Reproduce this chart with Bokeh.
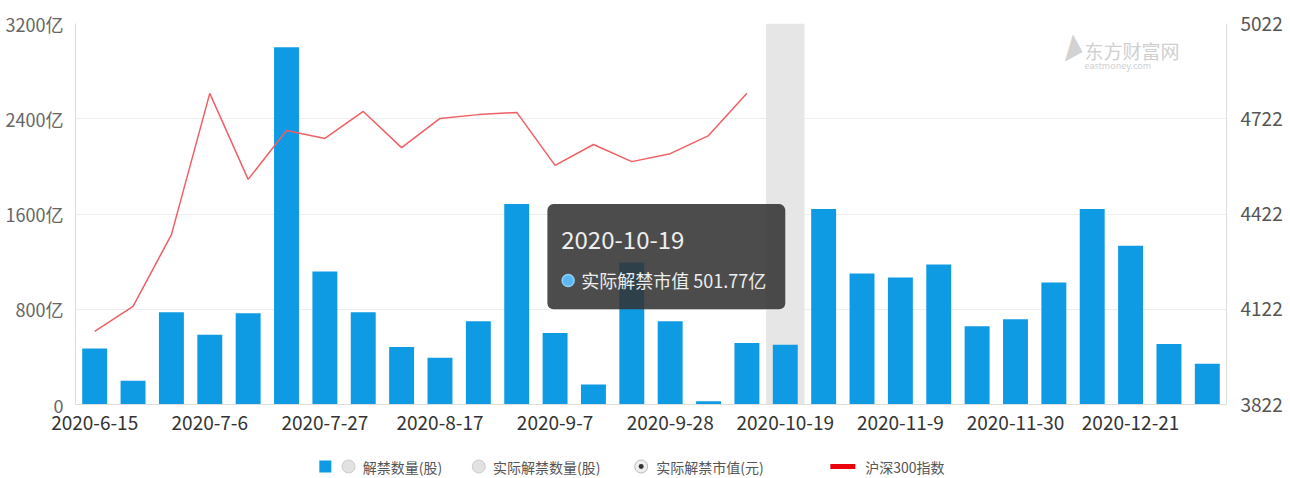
from bokeh.plotting import figure
from bokeh.models import Range1d, LinearAxis, FixedTicker, BoxAnnotation, Label
from bokeh.layouts import column
from bokeh.embed import file_html
from bokeh.resources import INLINE
from bokeh.core.properties import value

FONT = "Noto Sans CJK SC"

dates = ["2020-6-15", "2020-6-22", "2020-6-29", "2020-7-6", "2020-7-13", "2020-7-20",
         "2020-7-27", "2020-8-3", "2020-8-10", "2020-8-17", "2020-8-24", "2020-8-31",
         "2020-9-7", "2020-9-14", "2020-9-21", "2020-9-28", "2020-10-5", "2020-10-12",
         "2020-10-19", "2020-10-26", "2020-11-2", "2020-11-9", "2020-11-16", "2020-11-23",
         "2020-11-30", "2020-12-7", "2020-12-14", "2020-12-21", "2020-12-28", "2021-1-4"]

# 实际解禁市值 (亿元)
market_value = [470, 200, 775, 585, 767, 3000, 1117, 775, 483, 392, 700, 1683,
                600, 167, 1192, 700, 28, 517, 501.77, 1642, 1100, 1067, 1175, 658,
                717, 1025, 1642, 1333, 508, 342]

# 沪深300指数
hs300 = [4052, 4131, 4357, 4802, 4531, 4685, 4660, 4745, 4631, 4723, 4735, 4742,
         4575, 4641, 4587, 4612, 4669, 4802]

left_ticks = [0, 800, 1600, 2400, 3200]
left_labels = ["0", "800亿", "1600亿", "2400亿", "3200亿"]
right_ticks = [3822, 4122, 4422, 4722, 5022]

legend_labels = ["解禁数量(股)", "实际解禁数量(股)", "实际解禁市值(元)", "沪深300指数"]
tooltip_date = "2020-10-19"
tooltip_text = "实际解禁市值 501.77亿"
watermark = "东方财富网"

BAR = "#0f9be3"
RED = "#f05f64"

n = len(dates)
xs = list(range(n))

p = figure(width=1290, height=448, output_backend="svg", toolbar_location=None,
           x_range=Range1d(-0.5, n - 0.5), y_range=Range1d(0, 3200),
           min_border_left=75, min_border_right=64, min_border_top=23, min_border_bottom=44,
           background_fill_color="white", border_fill_color="white")
p.outline_line_color = None
p.extra_y_ranges = {"idx": Range1d(3822, 5022)}

# highlight band for hovered category
hi = dates.index(tooltip_date)
p.add_layout(BoxAnnotation(left=hi - 0.5, right=hi + 0.5, fill_color="#e6e6e6",
                           fill_alpha=1.0, line_color=None, level="underlay"))

p.vbar(x=xs, top=market_value, width=0.65, color=BAR, line_color=None)
p.line(x=xs[:len(hs300)], y=hs300, y_range_name="idx", line_color=RED, line_width=1.5)

# axes
p.xgrid.visible = False
p.ygrid.grid_line_color = "#eeeeee"
p.ygrid.ticker = FixedTicker(ticks=left_ticks)

ya = p.yaxis[0]
ya.ticker = FixedTicker(ticks=left_ticks)
ya.major_label_overrides = {t: l for t, l in zip(left_ticks, left_labels)}
ya.axis_line_color = "#dddddd"
ya.major_tick_line_color = None
ya.minor_tick_line_color = None
ya.major_label_text_color = "#666666"
ya.major_label_text_font = FONT
ya.major_label_text_font_size = "18px"
ya.major_label_standoff = 6

xa = p.xaxis[0]
xa.ticker = FixedTicker(ticks=list(range(0, n, 3)))
xa.major_label_overrides = {i: dates[i] for i in range(0, n, 3)}
xa.axis_line_color = "#dddddd"
xa.major_tick_line_color = None
xa.minor_tick_line_color = None
xa.major_label_text_color = "#333333"
xa.major_label_text_font = FONT
xa.major_label_text_font_size = "19px"
xa.major_label_standoff = 5

ra = LinearAxis(y_range_name="idx", ticker=FixedTicker(ticks=right_ticks))
ra.axis_line_color = "#dddddd"
ra.major_tick_line_color = None
ra.minor_tick_line_color = None
ra.major_label_text_color = "#555555"
ra.major_label_text_font = FONT
ra.major_label_text_font_size = "19px"
ra.major_label_standoff = 8
p.add_layout(ra, "right")

# watermark
p.add_layout(Label(x=25.15, y=2960, text="◢", text_font=FONT, text_font_size="20px",
                   text_color="#d2d2d2", text_baseline="middle", angle=0.5))
p.add_layout(Label(x=25.8, y=2975, text=watermark, text_font=FONT, text_font_size="19px",
                   text_color="#d0d0d0", text_baseline="middle"))
p.add_layout(Label(x=25.8, y=2850, text="eastmoney.com", text_font=FONT, text_font_size="9px",
                   text_color="#d0d0d0", text_baseline="middle"))

# tooltip
p.add_layout(BoxAnnotation(left=hi - 6.2, right=hi, top=1683, bottom=800,
                           fill_color="#333333", fill_alpha=0.88, line_color=None,
                           border_radius=6))
p.add_layout(Label(x=hi - 5.84, y=1385, text=tooltip_date, text_font=FONT,
                   text_font_size="24px", text_color="#eeeeee", text_baseline="middle"))
dot = p.scatter(x=[hi - 5.66], y=[1042], marker="circle", size=12, fill_color="#5cb8f2",
                line_color="#8fd0f7", line_width=1.5)
dot.level = "overlay"
p.add_layout(Label(x=hi - 5.32, y=1042, text=tooltip_text, text_font=FONT,
                   text_font_size="18px", text_color="#eeeeee", text_baseline="middle"))

# legend strip
lg = figure(width=1290, height=30, output_backend="svg", toolbar_location=None,
            x_range=Range1d(0, 1290), y_range=Range1d(0, 30),
            min_border=0, background_fill_color="white", border_fill_color="white")
lg.outline_line_color = None
lg.axis.visible = False
lg.grid.visible = False
cy = 12
lg.scatter(x=[280], y=[cy], marker="square", size=12, fill_color=BAR, line_color=None)
lg.scatter(x=[306, 452], y=[cy, cy], marker="circle", size=13, fill_color="#e2e2e2",
           line_color="#cccccc")
lg.scatter(x=[634], y=[cy], marker="circle", size=13, fill_color="#eeeeee", line_color="#bbbbbb")
lg.scatter(x=[634], y=[cy], marker="circle", size=5, fill_color="#333333", line_color=None)
lg.segment(x0=[846], y0=[cy], x1=[874], y1=[cy], line_color="#e8000b", line_width=5)
lg.text(x=[322, 468, 651, 885], y=[cy] * 4, text=legend_labels, text_font=value(FONT),
        text_font_size="14px", text_color="#555555", text_baseline="middle", text_align="left")

layout = column(p, lg, spacing=0)
open("out.html", "w").write(file_html(layout, INLINE))
